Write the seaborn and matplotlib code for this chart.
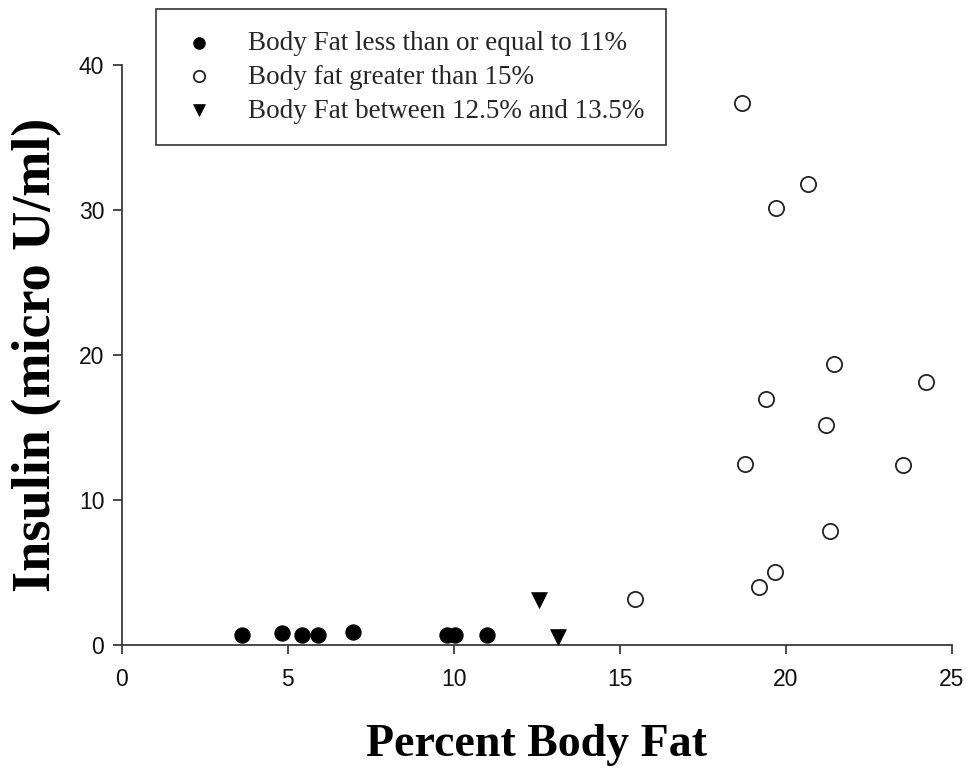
import matplotlib
matplotlib.use("Agg")
import matplotlib.pyplot as plt
import seaborn as sns
import pandas as pd

# Data
lean_fat = [3.63, 4.84, 5.44, 5.92, 6.98, 9.79, 10.04, 10.99]
lean_insulin = [0.69, 0.85, 0.69, 0.69, 0.88, 0.69, 0.69, 0.69]

high_fat = [18.67, 20.68, 19.72, 21.45, 24.24, 19.41, 21.22, 18.77, 23.53, 21.33, 19.67, 19.19, 15.46]
high_insulin = [37.4, 31.77, 30.14, 19.4, 18.16, 16.99, 15.15, 12.48, 12.39, 7.84, 5.01, 4.02, 3.15]

mid_fat = [12.57, 13.13]
mid_insulin = [3.1, 0.57]

labels = ["Body Fat less than or equal to 11%",
          "Body fat greater than 15%",
          "Body Fat between 12.5% and 13.5%"]
x_ticks = [0, 5, 10, 15, 20, 25]
y_ticks = [0, 10, 20, 30, 40]

sns.set_style("ticks")
plt.rcParams["font.family"] = ["Liberation Sans", "DejaVu Sans"]

fig = plt.figure(figsize=(9.7, 7.69), dpi=100)
ax = fig.add_axes([121.7 / 970, 1 - 645 / 769, (951.7 - 121.7) / 970, (645 - 65) / 769])

axis_col = "#3a3a3a"
sns.scatterplot(x=lean_fat, y=lean_insulin, ax=ax, marker="o", s=120,
                color="black", edgecolor="black", linewidth=0.8, label=labels[0], zorder=3)
sns.scatterplot(x=high_fat, y=high_insulin, ax=ax, marker="o", s=120,
                facecolor="white", edgecolor="#222222", linewidth=1.3, label=labels[1], zorder=3)
sns.scatterplot(x=mid_fat, y=mid_insulin, ax=ax, marker="v", s=130,
                color="black", edgecolor="black", linewidth=0.5, label=labels[2], zorder=3)

ax.set_xlim(0, 25)
ax.set_ylim(0, 40)
ax.set_xticks(x_ticks)
ax.set_yticks(y_ticks)
sns.despine(ax=ax)
for sp in ["left", "bottom"]:
    ax.spines[sp].set_color(axis_col)
    ax.spines[sp].set_linewidth(1.3)
ax.tick_params(axis="both", direction="out", length=6.5, width=1.3, color=axis_col,
               labelsize=16.5, labelcolor="#111111")
ax.tick_params(axis="x", pad=10)
ax.tick_params(axis="y", pad=6)

ax.set_xlabel("Percent Body Fat", fontfamily="Liberation Serif", fontweight="bold",
              fontsize=33, labelpad=24, color="black")
ax.set_ylabel("Insulin (micro U/ml)", fontfamily="Liberation Serif", fontweight="bold",
              fontsize=39, labelpad=12, color="black")

leg = ax.legend(loc="upper left", bbox_to_anchor=(156 / 970, 1 - 9 / 769),
                bbox_transform=fig.transFigure, frameon=True, fancybox=False,
                prop={"family": "Liberation Serif", "size": 19.5},
                markerscale=0.75, handletextpad=1.0, borderpad=0.8,
                labelspacing=0.33, handlelength=1.6, borderaxespad=0)
leg.get_frame().set_edgecolor("#333333")
leg.get_frame().set_linewidth(1.2)
leg.get_frame().set_facecolor("white")
leg.get_frame().set_alpha(1)

fig.savefig("out.png", dpi=100, facecolor="white")
